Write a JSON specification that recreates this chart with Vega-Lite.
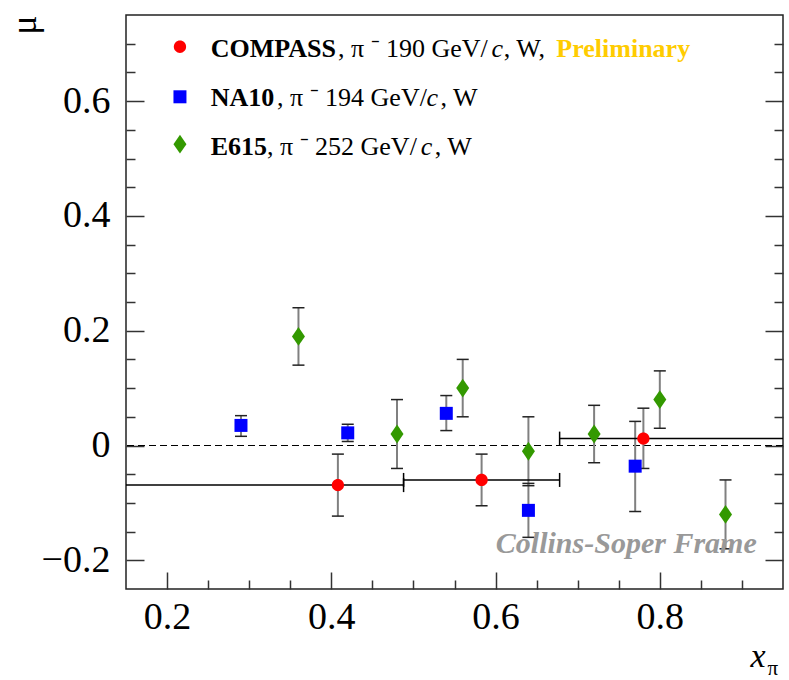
{
  "$schema": "https://vega.github.io/schema/vega-lite/v6.json",
  "width": 657,
  "height": 574,
  "autosize": {"type": "none"},
  "padding": {"left": 126, "top": 15, "right": 6, "bottom": 91},
  "background": "white",
  "config": {
    "font": "Liberation Serif",
    "view": {"stroke": "#222", "strokeWidth": 1.5},
    "axis": {"grid": false, "domain": false, "tickColor": "#333", "tickWidth": 1.5, "labelColor": "#000", "titleColor": "#000", "titleFontWeight": "normal"},
    "text": {"font": "Liberation Serif"}
  },
  "datasets": {
    "pts": [
      {"expt": "COMPASS", "x": 0.408, "y": -0.069, "ylo": -0.123, "yhi": -0.015, "xlo": 0.12, "xhi": 0.488},
      {"expt": "COMPASS", "x": 0.583, "y": -0.060, "ylo": -0.105, "yhi": -0.015, "xlo": 0.488, "xhi": 0.678},
      {"expt": "COMPASS", "x": 0.780, "y": 0.012, "ylo": -0.040, "yhi": 0.065, "xlo": 0.678, "xhi": 1.0},
      {"expt": "NA10", "x": 0.29, "y": 0.035, "ylo": 0.016, "yhi": 0.052},
      {"expt": "NA10", "x": 0.42, "y": 0.022, "ylo": 0.007, "yhi": 0.037},
      {"expt": "NA10", "x": 0.54, "y": 0.056, "ylo": 0.026, "yhi": 0.087},
      {"expt": "NA10", "x": 0.64, "y": -0.113, "ylo": -0.160, "yhi": -0.066},
      {"expt": "NA10", "x": 0.77, "y": -0.036, "ylo": -0.115, "yhi": 0.042},
      {"expt": "E615", "x": 0.36, "y": 0.19, "ylo": 0.14, "yhi": 0.24},
      {"expt": "E615", "x": 0.48, "y": 0.02, "ylo": -0.04, "yhi": 0.08},
      {"expt": "E615", "x": 0.56, "y": 0.10, "ylo": 0.05, "yhi": 0.15},
      {"expt": "E615", "x": 0.64, "y": -0.01, "ylo": -0.07, "yhi": 0.05},
      {"expt": "E615", "x": 0.72, "y": 0.02, "ylo": -0.03, "yhi": 0.07},
      {"expt": "E615", "x": 0.80, "y": 0.08, "ylo": 0.03, "yhi": 0.13},
      {"expt": "E615", "x": 0.88, "y": -0.12, "ylo": -0.18, "yhi": -0.06}
    ],
    "one": [{"k": 1}]
  },
  "data": {"name": "pts"},
  "layer": [
    {
      "data": {"name": "one"},
      "mark": {"type": "rule", "color": "#000", "strokeWidth": 1.2, "strokeDash": [7, 4]},
      "encoding": {"y": {"datum": 0, "scale": {"domain": [-0.25, 0.75], "nice": false, "zero": false}, "axis": null}}
    },
    {
      "mark": {"type": "rule", "color": "#808080", "strokeWidth": 2},
      "encoding": {
        "x": {"field": "x", "type": "quantitative", "scale": {"domain": [0.15, 0.95], "nice": false, "zero": false},
          "axis": {"orient": "bottom", "values": [0.2, 0.4, 0.6, 0.8], "ticks": false, "labelFont": "Liberation Serif", "labelFontSize": 38, "labelPadding": 9, "format": ".1f", "title": "x", "titleFont": "Liberation Serif", "titleFontStyle": "italic", "titleFontSize": 34, "titleX": 639, "titleY": 77, "titleAlign": "right", "titleBaseline": "alphabetic"}},
        "y": {"field": "ylo", "type": "quantitative", "scale": {"domain": [-0.25, 0.75], "nice": false, "zero": false},
          "axis": {"orient": "left", "values": [-0.2, 0, 0.2, 0.4, 0.6], "ticks": false, "labelFont": "Liberation Serif", "labelFontSize": 38, "labelPadding": 16, "format": ".1~f", "title": "μ", "titleFont": "Liberation Serif", "titleFontSize": 36, "titleX": -91, "titleY": 0, "titleAngle": 270, "titleAlign": "right", "titleBaseline": "alphabetic"}},
        "y2": {"field": "yhi"}
      }
    },
    {
      "mark": {"type": "tick", "orient": "horizontal", "size": 12, "thickness": 1.5, "color": "#222", "opacity": 1},
      "encoding": {
        "x": {"field": "x", "type": "quantitative", "scale": {"domain": [0.15, 0.95], "nice": false, "zero": false},
          "axis": {"orient": "bottom", "values": [0.2, 0.4, 0.6, 0.8], "labels": false, "tickSize": -17, "title": null}},
        "y": {"field": "ylo", "type": "quantitative", "scale": {"domain": [-0.25, 0.75], "nice": false, "zero": false},
          "axis": {"orient": "left", "values": [-0.2, 0, 0.2, 0.4, 0.6], "labels": false, "tickSize": -18, "title": null}}
      }
    },
    {
      "mark": {"type": "tick", "orient": "horizontal", "size": 12, "thickness": 1.5, "color": "#222", "opacity": 1},
      "encoding": {
        "x": {"field": "x", "type": "quantitative", "scale": {"domain": [0.15, 0.95], "nice": false, "zero": false},
          "axis": {"orient": "bottom", "values": [0.25, 0.3, 0.35, 0.45, 0.5, 0.55, 0.65, 0.7, 0.75, 0.85, 0.9], "labels": false, "tickSize": -9, "title": null}},
        "y": {"field": "yhi", "type": "quantitative", "scale": {"domain": [-0.25, 0.75], "nice": false, "zero": false},
          "axis": {"orient": "left", "values": [-0.15, -0.1, -0.05, 0.05, 0.1, 0.15, 0.25, 0.3, 0.35, 0.45, 0.5, 0.55, 0.65, 0.7], "labels": false, "tickSize": -9, "title": null}}
      }
    },
    {
      "transform": [{"filter": "datum.expt === 'COMPASS'"}],
      "mark": {"type": "rule", "color": "#000", "strokeWidth": 1.5, "clip": true},
      "encoding": {
        "x": {"field": "xlo", "type": "quantitative", "scale": {"domain": [0.15, 0.95], "nice": false, "zero": false}, "axis": null},
        "x2": {"field": "xhi"},
        "y": {"field": "y", "type": "quantitative", "scale": {"domain": [-0.25, 0.75], "nice": false, "zero": false},
          "axis": {"orient": "right", "values": [-0.2, 0, 0.2, 0.4, 0.6], "labels": false, "tickSize": -18, "title": null}}
      }
    },
    {
      "transform": [{"filter": "datum.expt === 'COMPASS'"}],
      "mark": {"type": "tick", "orient": "vertical", "size": 14, "thickness": 1.5, "color": "#000", "opacity": 1, "clip": true},
      "encoding": {
        "x": {"field": "xlo", "type": "quantitative", "scale": {"domain": [0.15, 0.95], "nice": false, "zero": false}, "axis": null},
        "y": {"field": "y", "type": "quantitative", "scale": {"domain": [-0.25, 0.75], "nice": false, "zero": false},
          "axis": {"orient": "right", "values": [-0.15, -0.1, -0.05, 0.05, 0.1, 0.15, 0.25, 0.3, 0.35, 0.45, 0.5, 0.55, 0.65, 0.7], "labels": false, "tickSize": -9, "title": null}}
      }
    },
    {
      "transform": [{"filter": "datum.expt === 'COMPASS'"}],
      "mark": {"type": "tick", "orient": "vertical", "size": 14, "thickness": 1.5, "color": "#000", "opacity": 1, "clip": true},
      "encoding": {
        "x": {"field": "xhi", "type": "quantitative", "scale": {"domain": [0.15, 0.95], "nice": false, "zero": false}, "axis": null},
        "y": {"field": "y", "type": "quantitative", "scale": {"domain": [-0.25, 0.75], "nice": false, "zero": false}, "axis": null}
      }
    },
    {
      "mark": {"type": "point", "filled": true, "opacity": 1, "size": 169, "strokeWidth": 0},
      "encoding": {
        "x": {"field": "x", "type": "quantitative", "scale": {"domain": [0.15, 0.95], "nice": false, "zero": false}, "axis": null},
        "y": {"field": "y", "type": "quantitative", "scale": {"domain": [-0.25, 0.75], "nice": false, "zero": false}, "axis": null},
        "color": {"field": "expt", "type": "nominal", "scale": {"domain": ["COMPASS", "NA10", "E615"], "range": ["#ff0000", "#0000ff", "#339900"]}, "legend": null},
        "shape": {"field": "expt", "type": "nominal", "scale": {"domain": ["COMPASS", "NA10", "E615"], "range": ["M-0.946,0A0.946,0.946 0 1,0 0.946,0A0.946,0.946 0 1,0 -0.946,0Z", "M-1,-1L1,-1L1,1L-1,1Z", "M0,-1.45L1,0L0,1.45L-1,0Z"]}, "legend": null}
      }
    },
    {
      "data": {"name": "one"},
      "mark": {"type": "point", "filled": true, "opacity": 1, "size": 169, "strokeWidth": 0, "color": "#ff0000", "shape": "M-0.946,0A0.946,0.946 0 1,0 0.946,0A0.946,0.946 0 1,0 -0.946,0Z"},
      "encoding": {
        "x": {"datum": 0.2157, "scale": {"domain": [0.15, 0.95], "nice": false, "zero": false}, "axis": null},
        "y": {"datum": 0.6947, "scale": {"domain": [-0.25, 0.75], "nice": false, "zero": false}, "axis": null}
      }
    },
    {
      "data": {"name": "one"},
      "mark": {"type": "point", "filled": true, "opacity": 1, "size": 169, "strokeWidth": 0, "color": "#0000ff", "shape": "M-1,-1L1,-1L1,1L-1,1Z"},
      "encoding": {
        "x": {"datum": 0.2157, "axis": null},
        "y": {"datum": 0.6075, "axis": null}
      }
    },
    {
      "data": {"name": "one"},
      "mark": {"type": "point", "filled": true, "opacity": 1, "size": 169, "strokeWidth": 0, "color": "#339900", "shape": "M0,-1.45L1,0L0,1.45L-1,0Z"},
      "encoding": {
        "x": {"datum": 0.2157, "axis": null},
        "y": {"datum": 0.525, "axis": null}
      }
    },
    {
      "data": {"name": "one"},
      "mark": {"type": "text", "font": "Liberation Serif", "fontSize": 26, "fontWeight": "bold", "align": "left", "baseline": "alphabetic", "color": "#000"},
      "encoding": {"x": {"datum": 0.2531, "axis": null}, "y": {"datum": 0.6767, "axis": null}, "text": {"value": "COMPASS"}}
    },
    {
      "data": {"name": "one"},
      "mark": {"type": "text", "font": "Liberation Serif", "fontSize": 26, "align": "left", "baseline": "alphabetic", "color": "#000"},
      "encoding": {"x": {"datum": 0.408, "axis": null}, "y": {"datum": 0.6767, "axis": null}, "text": {"value": ", π ⁻ 190 GeV/"}}
    },
    {
      "data": {"name": "one"},
      "mark": {"type": "text", "font": "Liberation Serif", "fontSize": 26, "fontStyle": "italic", "align": "left", "baseline": "alphabetic", "color": "#000"},
      "encoding": {"x": {"datum": 0.595, "axis": null}, "y": {"datum": 0.6767, "axis": null}, "text": {"value": "c"}}
    },
    {
      "data": {"name": "one"},
      "mark": {"type": "text", "font": "Liberation Serif", "fontSize": 26, "align": "left", "baseline": "alphabetic", "color": "#000"},
      "encoding": {"x": {"datum": 0.610, "axis": null}, "y": {"datum": 0.6767, "axis": null}, "text": {"value": ", W,"}}
    },
    {
      "data": {"name": "one"},
      "mark": {"type": "text", "font": "Liberation Serif", "fontSize": 26, "fontWeight": "bold", "align": "left", "baseline": "alphabetic", "color": "#ffcc00"},
      "encoding": {"x": {"datum": 0.674, "axis": null}, "y": {"datum": 0.6767, "axis": null}, "text": {"value": "Preliminary"}}
    },
    {
      "data": {"name": "one"},
      "mark": {"type": "text", "font": "Liberation Serif", "fontSize": 26, "fontWeight": "bold", "align": "left", "baseline": "alphabetic", "color": "#000"},
      "encoding": {"x": {"datum": 0.2531, "axis": null}, "y": {"datum": 0.5913, "axis": null}, "text": {"value": "NA10"}}
    },
    {
      "data": {"name": "one"},
      "mark": {"type": "text", "font": "Liberation Serif", "fontSize": 26, "align": "left", "baseline": "alphabetic", "color": "#000"},
      "encoding": {"x": {"datum": 0.3338, "axis": null}, "y": {"datum": 0.5913, "axis": null}, "text": {"value": ", π ⁻ 194 GeV/"}}
    },
    {
      "data": {"name": "one"},
      "mark": {"type": "text", "font": "Liberation Serif", "fontSize": 26, "fontStyle": "italic", "align": "left", "baseline": "alphabetic", "color": "#000"},
      "encoding": {"x": {"datum": 0.516, "axis": null}, "y": {"datum": 0.5913, "axis": null}, "text": {"value": "c"}}
    },
    {
      "data": {"name": "one"},
      "mark": {"type": "text", "font": "Liberation Serif", "fontSize": 26, "align": "left", "baseline": "alphabetic", "color": "#000"},
      "encoding": {"x": {"datum": 0.533, "axis": null}, "y": {"datum": 0.5913, "axis": null}, "text": {"value": ", W"}}
    },
    {
      "data": {"name": "one"},
      "mark": {"type": "text", "font": "Liberation Serif", "fontSize": 26, "fontWeight": "bold", "align": "left", "baseline": "alphabetic", "color": "#000"},
      "encoding": {"x": {"datum": 0.2531, "axis": null}, "y": {"datum": 0.5059, "axis": null}, "text": {"value": "E615"}}
    },
    {
      "data": {"name": "one"},
      "mark": {"type": "text", "font": "Liberation Serif", "fontSize": 26, "align": "left", "baseline": "alphabetic", "color": "#000"},
      "encoding": {"x": {"datum": 0.3216, "axis": null}, "y": {"datum": 0.5059, "axis": null}, "text": {"value": ", π ⁻ 252 GeV/"}}
    },
    {
      "data": {"name": "one"},
      "mark": {"type": "text", "font": "Liberation Serif", "fontSize": 26, "fontStyle": "italic", "align": "left", "baseline": "alphabetic", "color": "#000"},
      "encoding": {"x": {"datum": 0.509, "axis": null}, "y": {"datum": 0.5059, "axis": null}, "text": {"value": "c"}}
    },
    {
      "data": {"name": "one"},
      "mark": {"type": "text", "font": "Liberation Serif", "fontSize": 26, "align": "left", "baseline": "alphabetic", "color": "#000"},
      "encoding": {"x": {"datum": 0.526, "axis": null}, "y": {"datum": 0.5059, "axis": null}, "text": {"value": ", W"}}
    },
    {
      "data": {"name": "one"},
      "mark": {"type": "text", "font": "Liberation Serif", "fontSize": 30, "fontWeight": "bold", "fontStyle": "italic", "align": "right", "baseline": "alphabetic", "color": "#999999"},
      "encoding": {"x": {"datum": 0.918, "axis": null}, "y": {"datum": -0.188, "axis": null}, "text": {"value": "Collins-Soper Frame"}}
    },
    {
      "data": {"name": "one"},
      "mark": {"type": "text", "font": "Liberation Serif", "fontSize": 21, "align": "left", "baseline": "alphabetic", "color": "#000", "clip": false},
      "encoding": {"x": {"datum": 0.931, "axis": null}, "y": {"datum": -0.399, "axis": null}, "text": {"value": "π"}}
    }
  ],
  "resolve": {"axis": {"x": "independent", "y": "independent"}}
}
